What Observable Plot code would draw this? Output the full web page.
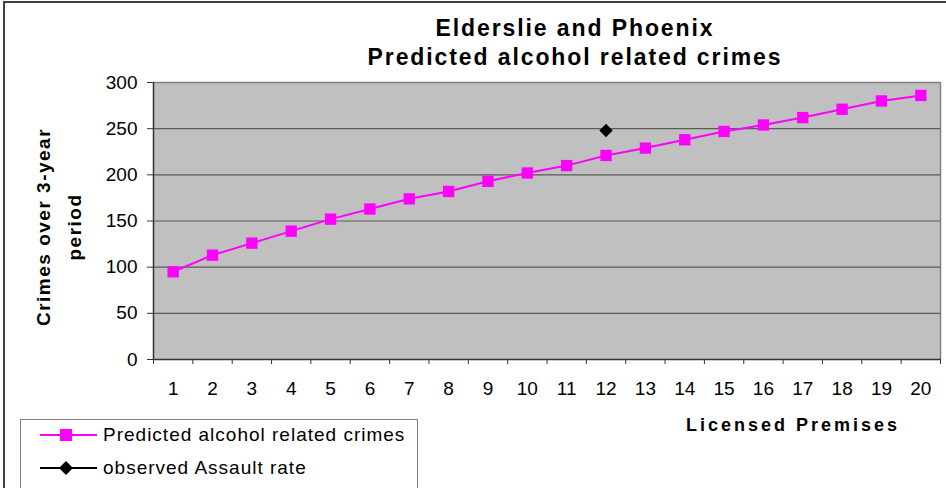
<!DOCTYPE html>
<html>
<head>
<meta charset="utf-8">
<script src="https://cdn.jsdelivr.net/npm/d3@7"></script>
<script src="https://cdn.jsdelivr.net/npm/@observablehq/plot@0.6"></script>
<style>
  html, body { margin: 0; padding: 0; background: #fff; }
  #wrap { position: relative; width: 946px; height: 488px; overflow: hidden; font-family: "Liberation Sans", Arial, sans-serif; }
  #outer { position: absolute; left: 3px; top: 1px; width: 1000px; height: 600px; border-left: 2px solid #404040; border-top: 2px solid #404040; box-sizing: border-box; }
  #title { position: absolute; left: 200px; width: 750px; top: 14px; text-align: center; font-weight: bold; font-size: 23px; line-height: 29px; letter-spacing: 1.9px; color: #000; }
  #ylabel { position: absolute; left: 59px; top: 227px; transform: translate(-50%, -50%) rotate(-90deg); text-align: center; font-weight: bold; font-size: 19px; line-height: 31px; letter-spacing: 1.5px; white-space: nowrap; color: #000; }
  #xlabel { position: absolute; left: 793px; top: 425px; transform: translate(-50%, -50%); font-weight: bold; font-size: 18px; letter-spacing: 3px; white-space: nowrap; color: #000; }
  #legend { position: absolute; left: 20px; top: 419px; width: 398px; height: 100px; border: 1px solid #808080; box-sizing: border-box; background: #fff; }
  .row { position: absolute; left: 19px; height: 20px; display: flex; align-items: center; font-size: 19px; letter-spacing: 1px; color: #000; white-space: nowrap; }
  .row svg { margin-right: 6px; }
  svg.plot { position: absolute; left: 0; top: 0; }
</style>
</head>
<body>
<div id="wrap">
  <div id="outer"></div>
  <div id="title">Elderslie and Phoenix<br>Predicted alcohol related crimes</div>
  <div id="ylabel">Crimes over 3-year<br>period</div>
  <div id="xlabel">Licensed Premises</div>
  <div id="legend">
    <div class="row" style="top:5px"><svg width="57" height="14"><line x1="0" y1="7" x2="57" y2="7" stroke="#ff00ff" stroke-width="2"/><rect x="20" y="1" width="12" height="12" fill="#ff00ff"/></svg>Predicted alcohol related crimes</div>
    <div class="row" style="top:38px"><svg width="57" height="14"><line x1="0" y1="7" x2="57" y2="7" stroke="#000" stroke-width="2"/><path d="M26,0 L33,7 L26,14 L19,7 Z" fill="#000"/></svg>observed Assault rate</div>
  </div>
</div>
<script>
const premises = [1, 2, 3, 4, 5, 6, 7, 8, 9, 10, 11, 12, 13, 14, 15, 16, 17, 18, 19, 20];
const predicted = [95, 113, 126, 139, 152, 163, 174, 182, 193, 202, 210, 221, 229, 238, 247, 254, 262, 271, 280, 286];
const observedPremises = [12];
const observedAssault = [248];
const yTicks = [0, 50, 100, 150, 200, 250, 300];
const xBoundaries = d3.range(0.5, 21, 1);

const predictedData = premises.map((p, i) => ({premises: p, crimes: predicted[i]}));
const observedData = observedPremises.map((p, i) => ({premises: p, crimes: observedAssault[i]}));

const chart = Plot.plot({
  width: 946,
  height: 488,
  marginLeft: 153,
  marginRight: 6,
  marginTop: 82,
  marginBottom: 129,
  style: {fontFamily: "'Liberation Sans', Arial, sans-serif", fontSize: "19px", color: "#000", background: "transparent"},
  x: {type: "linear", domain: [0.5, 20.5]},
  y: {domain: [0, 300]},
  marks: [
    Plot.frame({fill: "#c0c0c0", stroke: null}),
    Plot.gridY(yTicks.filter(d => d > 0 && d < 300), {stroke: "#5a5a5a", strokeOpacity: 1, strokeWidth: 1.2}),
    Plot.ruleY([300], {stroke: "#808080", strokeWidth: 1.5}),
    Plot.ruleX([20.5], {stroke: "#808080", strokeWidth: 1.5}),
    Plot.ruleX([0.5], {stroke: "#333", strokeWidth: 1.5}),
    Plot.ruleY([0], {stroke: "#333", strokeWidth: 1.5}),
    Plot.axisY({ticks: yTicks, tickSize: 6, tickPadding: 10, label: null, stroke: "#333", fontSize: 19, style: {letterSpacing: "0.8px"}}),
    Plot.axisX({ticks: xBoundaries, tickSize: 5, tickFormat: () => "", label: null, stroke: "#333"}),
    Plot.axisX({ticks: premises, tickSize: 0, tickPadding: 22, label: null, tickFormat: d => String(d), fontSize: 19, style: {letterSpacing: "0.5px"}}),
    Plot.line(predictedData, {x: "premises", y: "crimes", stroke: "#ff00ff", strokeWidth: 2}),
    Plot.dot(predictedData, {x: "premises", y: "crimes", symbol: "square", r: 6.4, fill: "#ff00ff", stroke: null}),
    Plot.dot(observedData, {x: "premises", y: "crimes", symbol: "diamond2", r: 6, fill: "#000", stroke: null})
  ]
});
chart.classList.add("plot");
document.getElementById("wrap").insertBefore(chart, document.getElementById("title"));
</script>
</body>
</html>
